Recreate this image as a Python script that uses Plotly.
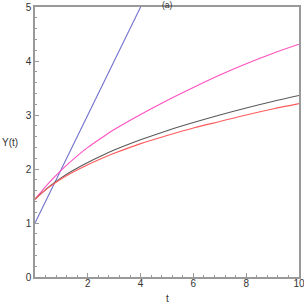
import plotly.graph_objects as go

t_vals = [0, 0.5, 1, 1.5, 2, 2.5, 3, 4, 5, 6, 7, 8, 9, 10]
y_magenta = [1.44, 1.73, 1.98, 2.20, 2.40, 2.57, 2.73, 3.01, 3.27, 3.51, 3.74, 3.95, 4.14, 4.31]
y_black = [1.44, 1.66, 1.84, 1.99, 2.12, 2.24, 2.35, 2.54, 2.71, 2.86, 3.00, 3.13, 3.25, 3.36]
y_red = [1.44, 1.65, 1.82, 1.96, 2.08, 2.19, 2.29, 2.47, 2.62, 2.76, 2.88, 3.00, 3.11, 3.21]
t_blue = [0, 4, 10]
y_blue = [1, 5, 11]

x_ticks = [2, 4, 6, 8, 10]
y_ticks = [0, 1, 2, 3, 4, 5]

fig = go.Figure()
fig.add_trace(go.Scatter(x=t_blue, y=y_blue, mode="lines",
                         line=dict(color="#7070cc", width=1.1)))
for yv, col in [(y_magenta, "#ff4fc0"), (y_black, "#5a5a5a"), (y_red, "#ff5a5a")]:
    fig.add_trace(go.Scatter(x=t_vals, y=yv, mode="lines",
                             line=dict(color=col, width=1.1, shape="spline", smoothing=1.0)))

axis_common = dict(showgrid=False, zeroline=False, showline=True, linecolor="#999999",
                   linewidth=1.5, mirror=True, ticks="inside", ticklen=4, tickwidth=1,
                   tickcolor="#999999", automargin=False, ticklabeloverflow="allow",
                   tickfont=dict(family="Liberation Sans, Arial", size=10, color="#333333"))

fig.update_xaxes(range=[0, 10], tickvals=x_ticks, ticktext=[str(v) for v in x_ticks],
                 ticklabelstandoff=-4,
                 minor=dict(dtick=0.4, ticks="inside", ticklen=2, tickcolor="#999999"),
                 **axis_common)
fig.update_yaxes(range=[0, 5], tickvals=y_ticks, ticktext=[str(v) for v in y_ticks],
                 minor=dict(dtick=0.2, ticks="inside", ticklen=2, tickcolor="#999999"),
                 **axis_common)

fig.add_annotation(text="(a)", x=5.02, y=1.009, xref="x", yref="paper",
                   xanchor="center", yanchor="middle", showarrow=False,
                   font=dict(family="Liberation Sans, Arial", size=8.5, color="#333333"))
fig.add_annotation(text="Y(t)", x=-0.095, y=2.49, xref="paper", yref="y",
                   xanchor="center", yanchor="middle", showarrow=False,
                   font=dict(family="Liberation Sans, Arial", size=10, color="#333333"))
fig.add_annotation(text="t", x=5.0, y=-0.081, xref="x", yref="paper",
                   xanchor="center", yanchor="middle", showarrow=False,
                   font=dict(family="Liberation Sans, Arial", size=10, color="#333333"))

fig.update_layout(width=304, height=304, showlegend=False,
                  margin=dict(l=35, r=5, t=7, b=27),
                  plot_bgcolor="white", paper_bgcolor="white")

fig.write_html("out.html", config={"displayModeBar": False},
               post_script="document.body.style.margin='0';document.body.style.overflow='hidden';")
